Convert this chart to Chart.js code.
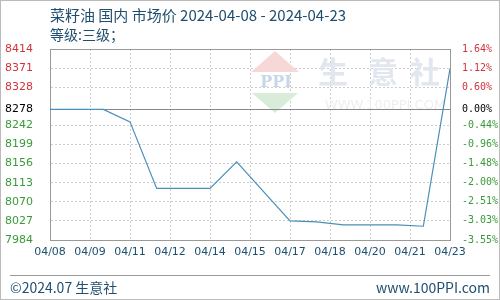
<!DOCTYPE html>
<html>
<head>
<meta charset="utf-8">
<script src="https://cdn.jsdelivr.net/npm/chart.js@4"></script>
<style>
  html, body { margin: 0; padding: 0; background: #fff; }
  #wrap { position: relative; width: 500px; height: 300px; }
  canvas { display: block; }
</style>
</head>
<body>
<div id="wrap"><canvas id="myChart" width="500" height="300"></canvas></div>
<script>
var titleText = "菜籽油 国内 市场价 2024-04-08 - 2024-04-23";
var subTitle = "等级:三级；";

var dates = ["2024-04-08", "2024-04-09", "2024-04-10", "2024-04-11", "2024-04-12", "2024-04-13", "2024-04-14",
    "2024-04-15", "2024-04-17", "2024-04-18", "2024-04-19", "2024-04-20", "2024-04-21", "2024-04-22", "2024-04-23"];
var prices = [8278, 8278, 8278, 8250, 8100, 8100, 8100,
    8160, 8027, 8025, 8018, 8018, 8018, 8015, 8370];

var xTickLabels = ["04/08", "04/09", "04/11", "04/12", "04/14", "04/15", "04/17", "04/18", "04/20", "04/21", "04/23"];
var leftTicks = [8414, 8371, 8328, 8278, 8242, 8199, 8156, 8113, 8070, 8027, 7984];
var rightTickLabels = ["1.64%", "1.12%", "0.60%", "0.00%", "-0.44%", "-0.96%", "-1.48%", "-2.00%", "-2.51%", "-3.03%", "-3.55%"];
var basePrice = 8278;

var dayMs = 86400000;
var startDay = new Date(dates[0]).getTime();
var points = dates.map((d, i) => ({ x: (new Date(d).getTime() - startDay) / dayMs, y: prices[i] }));
var lastDay = points[points.length - 1].x;

tickColor = v => v > basePrice ? "#d0343c" : (v == basePrice ? "#000" : "#3a9a3a");

var decor = {
    id: "decor",
    beforeDatasetsDraw(chart) {
        let ctx = chart.ctx, a = chart.chartArea;
        ctx.save();
        // watermark
        ctx.fillStyle = "#f6d9d6";
        ctx.beginPath();
        ctx.moveTo(275, 51); ctx.lineTo(299, 72); ctx.lineTo(251, 72); ctx.closePath(); ctx.fill();
        ctx.fillStyle = "#d9ecd9";
        ctx.beginPath();
        ctx.moveTo(252, 93); ctx.lineTo(298, 93); ctx.lineTo(275, 113); ctx.closePath(); ctx.fill();
        ctx.fillStyle = "#c8d6ea";
        ctx.font = "bold 16px 'DejaVu Serif'";
        ctx.textAlign = "center"; ctx.textBaseline = "middle";
        ctx.fillText("PPI", 276, 83);
        ctx.fillStyle = "#e2e6ee";
        ctx.font = "bold 30px 'Noto Sans CJK SC'";
        ctx.fillText("生", 333, 72);
        ctx.fillText("意", 383, 72);
        ctx.fillText("社", 425, 72);
        ctx.font = "13px 'DejaVu Sans'";
        ctx.fillStyle = "#eceef2";
        ctx.fillText("WWW.100PPI.COM", 385, 106);
        // base price line
        let by = chart.scales.y.getPixelForValue(basePrice);
        ctx.strokeStyle = "#888";
        ctx.lineWidth = 1;
        ctx.beginPath();
        ctx.moveTo(a.left, Math.round(by) + 0.5); ctx.lineTo(a.right, Math.round(by) + 0.5);
        ctx.stroke();
        // frame
        ctx.strokeStyle = "#999";
        ctx.strokeRect(Math.round(a.left) + 0.5, Math.round(a.top) + 0.5, Math.round(a.right - a.left), Math.round(a.bottom - a.top));
        ctx.restore();
    },
    afterDraw(chart) {
        let ctx = chart.ctx;
        ctx.save();
        ctx.textBaseline = "middle";
        ctx.fillStyle = "#1f4e6e";
        ctx.font = "15px 'Noto Sans CJK SC'";
        ctx.textAlign = "left";
        ctx.fillText(titleText, 50, 15);
        ctx.font = "14px 'Noto Sans CJK SC'";
        ctx.fillText(subTitle, 50, 35);
        // footer
        ctx.strokeStyle = "#999";
        ctx.beginPath();
        ctx.moveTo(10, 275.5); ctx.lineTo(490, 275.5);
        ctx.stroke();
        ctx.font = "14px 'Noto Sans CJK SC'";
        ctx.fillText("©2024.07 生意社", 10, 288);
        ctx.textAlign = "right";
        ctx.fillText("www.100PPI.com", 490, 288);
        ctx.strokeStyle = "#bbb";
        ctx.strokeRect(0.5, 0.5, 499, 299);
        ctx.restore();
    }
};

createChart = () => {
    chart = new Chart(document.getElementById("myChart"), {
        type: "line",
        data: {
            datasets: [{
                data: points,
                borderColor: "#4a8fba",
                borderWidth: 1.2,
                pointRadius: 0,
                tension: 0,
                fill: false
            }]
        },
        options: {
            responsive: false,
            animation: false,
            layout: { padding: { top: 49, bottom: 30, left: 5, right: 0 } },
            plugins: { legend: { display: false }, tooltip: { enabled: false } },
            scales: {
                x: {
                    type: "linear",
                    min: 0,
                    max: lastDay,
                    afterBuildTicks: s => { s.ticks = xTickLabels.map((l, i) => ({ value: i * lastDay / (xTickLabels.length - 1) })); },
                    afterFit: s => { s.height = 30; },
                    ticks: {
                        callback: (v, i) => xTickLabels[i],
                        color: "#1f4e6e",
                        font: { size: 11, family: "'DejaVu Sans'" },
                        maxRotation: 0,
                        autoSkip: false,
                        padding: 6
                    },
                    grid: { color: "#ccc", drawTicks: false },
                    border: { color: "#999", dash: [2, 2] }
                },
                y: {
                    position: "left",
                    min: 7984,
                    max: 8414,
                    afterBuildTicks: s => { s.ticks = leftTicks.map(v => ({ value: v })); },
                    afterFit: s => { s.width = 45; },
                    ticks: {
                        callback: v => String(v),
                        color: c => tickColor(c.tick.value),
                        font: { size: 11, family: "'DejaVu Sans'" },
                        crossAlign: "far",
                        padding: 4
                    },
                    grid: { color: "#ccc", drawTicks: false },
                    border: { color: "#999", dash: [2, 2] }
                },
                y2: {
                    position: "right",
                    min: 7984,
                    max: 8414,
                    afterBuildTicks: s => { s.ticks = leftTicks.map(v => ({ value: v })); },
                    afterFit: s => { s.width = 50; },
                    ticks: {
                        callback: (v, i) => rightTickLabels[i],
                        color: c => tickColor(c.tick.value),
                        font: { size: 10, family: "'DejaVu Sans Mono'" },
                        padding: 4
                    },
                    grid: { display: false },
                    border: { color: "#999" }
                }
            }
        },
        plugins: [decor]
    });
}

createChart();
</script>
</body>
</html>
